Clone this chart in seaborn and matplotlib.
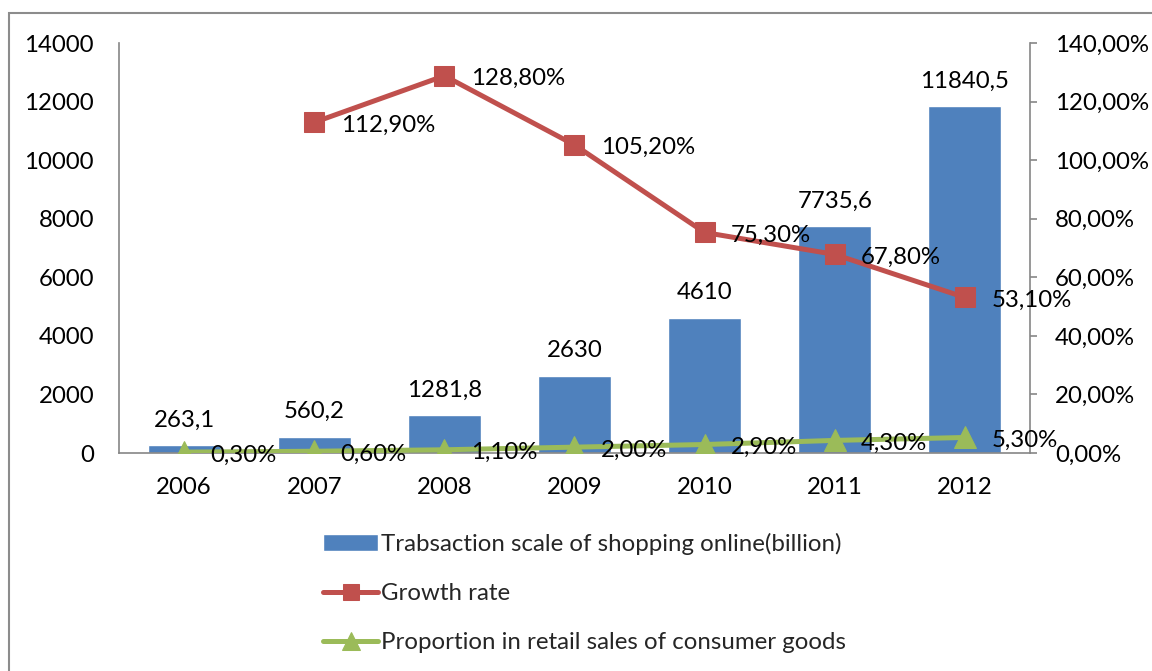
import numpy as np
import pandas as pd
import matplotlib
matplotlib.use("Agg")
import matplotlib.pyplot as plt
from matplotlib.patches import Rectangle
from matplotlib.ticker import FuncFormatter, MultipleLocator
import seaborn as sns

years = ["2006", "2007", "2008", "2009", "2010", "2011", "2012"]
scale = [263.1, 560.2, 1281.8, 2630, 4610, 7735.6, 11840.5]
growth = [np.nan, 112.9, 128.8, 105.2, 75.3, 67.8, 53.1]
proportion = [0.3, 0.6, 1.1, 2.0, 2.9, 4.3, 5.3]

names = ["Trabsaction scale of shopping online(billion)",
         "Growth rate",
         "Proportion in retail sales of consumer goods"]

BLUE = "#4F81BD"
RED = "#C0504D"
GREEN = "#9BBB59"
AXIS = "#868686"

sns.set_style("white")
plt.rcParams["font.family"] = ["Lato", "DejaVu Sans"]
FS = 17.3

df = pd.DataFrame({"year": years, "pos": np.arange(len(years)),
                   "scale": scale, "growth": growth, "proportion": proportion})

W, H = 1152, 671
fig = plt.figure(figsize=(W / 100, H / 100), dpi=100)
ax = fig.add_axes([119 / W, 1 - 453 / H, (1030 - 119) / W, (453 - 43) / H])

# outer chart frame
fig.patches.append(Rectangle((9 / W, -0.2), 1.5, 1.2 - 13 / H, transform=fig.transFigure,
                             fill=False, edgecolor="#8c8c8c", linewidth=1.5))

sns.barplot(data=df, x="year", y="scale", color=BLUE, saturation=1, width=0.56,
            ax=ax, label=names[0], zorder=2)
ax.set_xlim(-0.5, len(years) - 0.5)
ax.set_ylim(0, 14000)
ax.yaxis.set_major_locator(MultipleLocator(2000))
ax.set_xlabel("")
ax.set_ylabel("")
ax.tick_params(axis="y", length=0, pad=18, labelsize=FS, labelcolor="black")
ax.tick_params(axis="x", length=0, pad=17, labelsize=FS, labelcolor="black")
for s in ["top", "right"]:
    ax.spines[s].set_visible(False)
for s in ["left", "bottom"]:
    ax.spines[s].set_color(AXIS)
    ax.spines[s].set_linewidth(1.2)

ax2 = ax.twinx()
sns.lineplot(data=df, x="pos", y="growth", color=RED, lw=3.6, marker="s",
             markersize=14, markeredgecolor=RED, ax=ax2, label=names[1], zorder=3)
sns.lineplot(data=df, x="pos", y="proportion", color=GREEN, lw=3.6, marker="^",
             markersize=16, markeredgecolor=GREEN, ax=ax2, label=names[2], zorder=3)
ax2.set_ylim(0, 140)
ax2.set_xlim(-0.5, len(years) - 0.5)
ax2.yaxis.set_major_locator(MultipleLocator(20))
ax2.yaxis.set_major_formatter(FuncFormatter(lambda v, p: f"{v:.2f}%".replace(".", ",")))
ax2.set_ylabel("")
ax2.set_xlabel("")
ax2.tick_params(axis="y", length=5, width=1.2, color=AXIS, direction="out", pad=13,
                labelsize=FS, labelcolor="black")
for s in ["top", "left", "bottom"]:
    ax2.spines[s].set_visible(False)
ax2.spines["right"].set_color(AXIS)
ax2.spines["right"].set_linewidth(1.2)

# data labels
for i, v in enumerate(scale):
    ax.annotate(f"{v:g}".replace(".", ","), (i, v), xytext=(0, 18), textcoords="offset points",
                ha="center", va="center", fontsize=FS, color="black", zorder=5)
for series in (growth, proportion):
    for i, v in enumerate(series):
        if np.isnan(v):
            continue
        ax2.annotate(f"{v:.2f}%".replace(".", ","), (i, v), xytext=(19, -2),
                     textcoords="offset points", ha="left", va="center",
                     fontsize=FS, color="black", zorder=6)

h1, l1 = ax.get_legend_handles_labels()
h2, l2 = ax2.get_legend_handles_labels()
if ax2.get_legend():
    ax2.get_legend().remove()
if ax.get_legend():
    ax.get_legend().remove()
fig.legend(h1 + h2, l1 + l2, loc="upper left", bbox_to_anchor=(323 / W, 1 - 533 / H),
           frameon=False, fontsize=FS, handlelength=2.3, handletextpad=0.12,
           labelspacing=1.17, borderpad=0, borderaxespad=0, markerscale=0.85)

fig.savefig("out.png", dpi=100)
